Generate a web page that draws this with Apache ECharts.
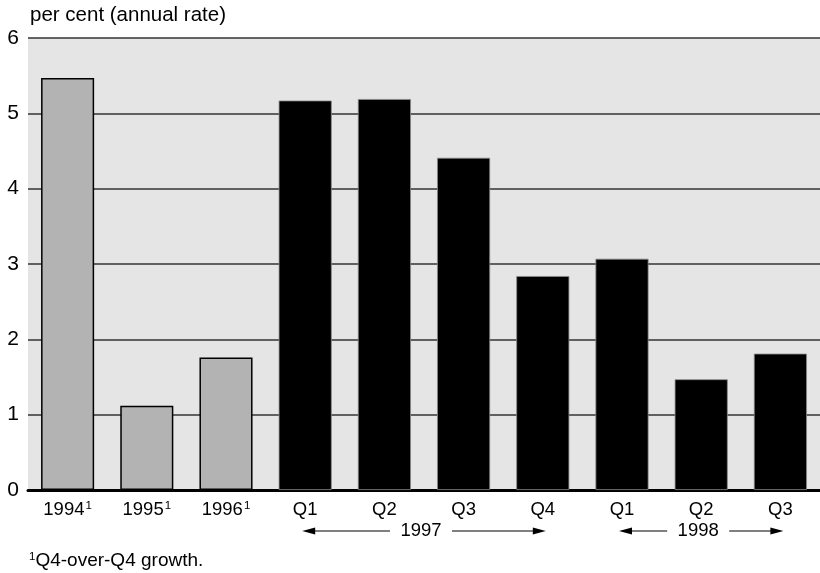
<!DOCTYPE html>
<html>
<head>
<meta charset="utf-8">
<script src="https://cdn.jsdelivr.net/npm/echarts@6/dist/echarts.min.js"></script>
<style>
  html, body { margin: 0; padding: 0; background: #fff; }
  #chart { width: 820px; height: 573px; }
</style>
</head>
<body>
<div id="chart"></div>
<script>
// Real GDP growth, per cent at annual rate
const categories = ['1994', '1995', '1996', 'Q1', 'Q2', 'Q3', 'Q4', 'Q1', 'Q2', 'Q3'];
const annualFlags = [true, true, true, false, false, false, false, false, false, false];
const growth = [5.47, 1.12, 1.76, 5.17, 5.19, 4.41, 2.84, 3.07, 1.47, 1.81];
const yTicks = [0, 1, 2, 3, 4, 5, 6];
// Year spans under the quarterly bars: [label, first index, last index]
const yearSpans = [['1997', 3, 6], ['1998', 7, 9]];

const FONT = 'Liberation Sans, Arial, sans-serif';
const LABEL_SIZE = 18.5;
const chart = echarts.init(document.getElementById('chart'), null, { renderer: 'canvas' });

const barData = growth.map((v, i) => ({
  value: v,
  itemStyle: annualFlags[i]
    ? { color: '#b3b3b3', borderColor: '#000', borderWidth: 1.5 }
    : { color: '#000', borderColor: '#8a8a8a', borderWidth: 0.8 }
}));

chart.setOption({
  animation: false,
  backgroundColor: '#fff',
  grid: {
    left: 28, right: -3, top: 38, bottom: 83,
    show: true, backgroundColor: '#e5e5e5', borderWidth: 0
  },
  xAxis: {
    type: 'category',
    data: categories,
    axisLine: { show: true, lineStyle: { color: '#000', width: 3 } },
    axisTick: { show: false },
    axisLabel: {
      interval: 0,
      margin: 10,
      formatter: (v, i) => annualFlags[i] ? '{t|' + v + '}{s|1}' : '{t|' + v + '}',
      rich: {
        t: { fontFamily: FONT, fontSize: LABEL_SIZE, color: '#000', lineHeight: 20 },
        s: { fontFamily: FONT, fontSize: 11.5, color: '#000', verticalAlign: 'top', lineHeight: 11, padding: [0, 0, 9, 1] }
      }
    }
  },
  yAxis: {
    type: 'value',
    min: yTicks[0], max: yTicks[yTicks.length - 1], interval: 1,
    name: 'per cent (annual rate)',
    nameLocation: 'end',
    nameGap: 12,
    nameTextStyle: { fontFamily: FONT, fontSize: 20.5, color: '#000', align: 'left', padding: [0, 0, 0, 2] },
    axisLine: { show: false },
    axisTick: { show: false },
    axisLabel: { fontFamily: FONT, fontSize: 21, color: '#000', margin: 9 },
    splitLine: { show: true, lineStyle: { color: '#333', width: 1.5 } }
  },
  series: [{
    type: 'bar',
    data: barData,
    barCategoryGap: '33%',
    z: 3
  }]
});

// Year captions with arrows below the quarterly labels, plus the footnote
function drawYearSpans() {
  const els = [];
  const y = 531;
  yearSpans.forEach(([label, a, b]) => {
    const x0 = chart.convertToPixel({ xAxisIndex: 0 }, a) - 3;
    const x1 = chart.convertToPixel({ xAxisIndex: 0 }, b) + 3;
    const mid = (x0 + x1) / 2 - 3;
    const half = 22;
    els.push({ type: 'text', x: mid, y: y, style: { text: label, font: LABEL_SIZE + 'px ' + FONT, fill: '#000', align: 'center', verticalAlign: 'middle' } });
    // left arrow
    els.push({ type: 'line', shape: { x1: x0 + 10, y1: y, x2: mid - half - 9, y2: y }, style: { stroke: '#000', lineWidth: 1.2 } });
    els.push({ type: 'polygon', shape: { points: [[x0, y], [x0 + 13, y - 3.5], [x0 + 13, y + 3.5]] }, style: { fill: '#000' } });
    // right arrow
    els.push({ type: 'line', shape: { x1: mid + half + 9, y1: y, x2: x1 - 10, y2: y }, style: { stroke: '#000', lineWidth: 1.2 } });
    els.push({ type: 'polygon', shape: { points: [[x1, y], [x1 - 13, y - 3.5], [x1 - 13, y + 3.5]] }, style: { fill: '#000' } });
  });
  els.push({
    type: 'text', x: 29, y: 561,
    style: {
      text: '{s|1}{t|Q4-over-Q4 growth.}',
      rich: {
        t: { fontFamily: FONT, fontSize: 19, fill: '#000' },
        s: { fontFamily: FONT, fontSize: 11.5, fill: '#000', verticalAlign: 'top', padding: [0, 0, 9, 0] }
      },
      verticalAlign: 'middle'
    }
  });
  chart.setOption({ graphic: els });
}
drawYearSpans();
</script>
</body>
</html>
